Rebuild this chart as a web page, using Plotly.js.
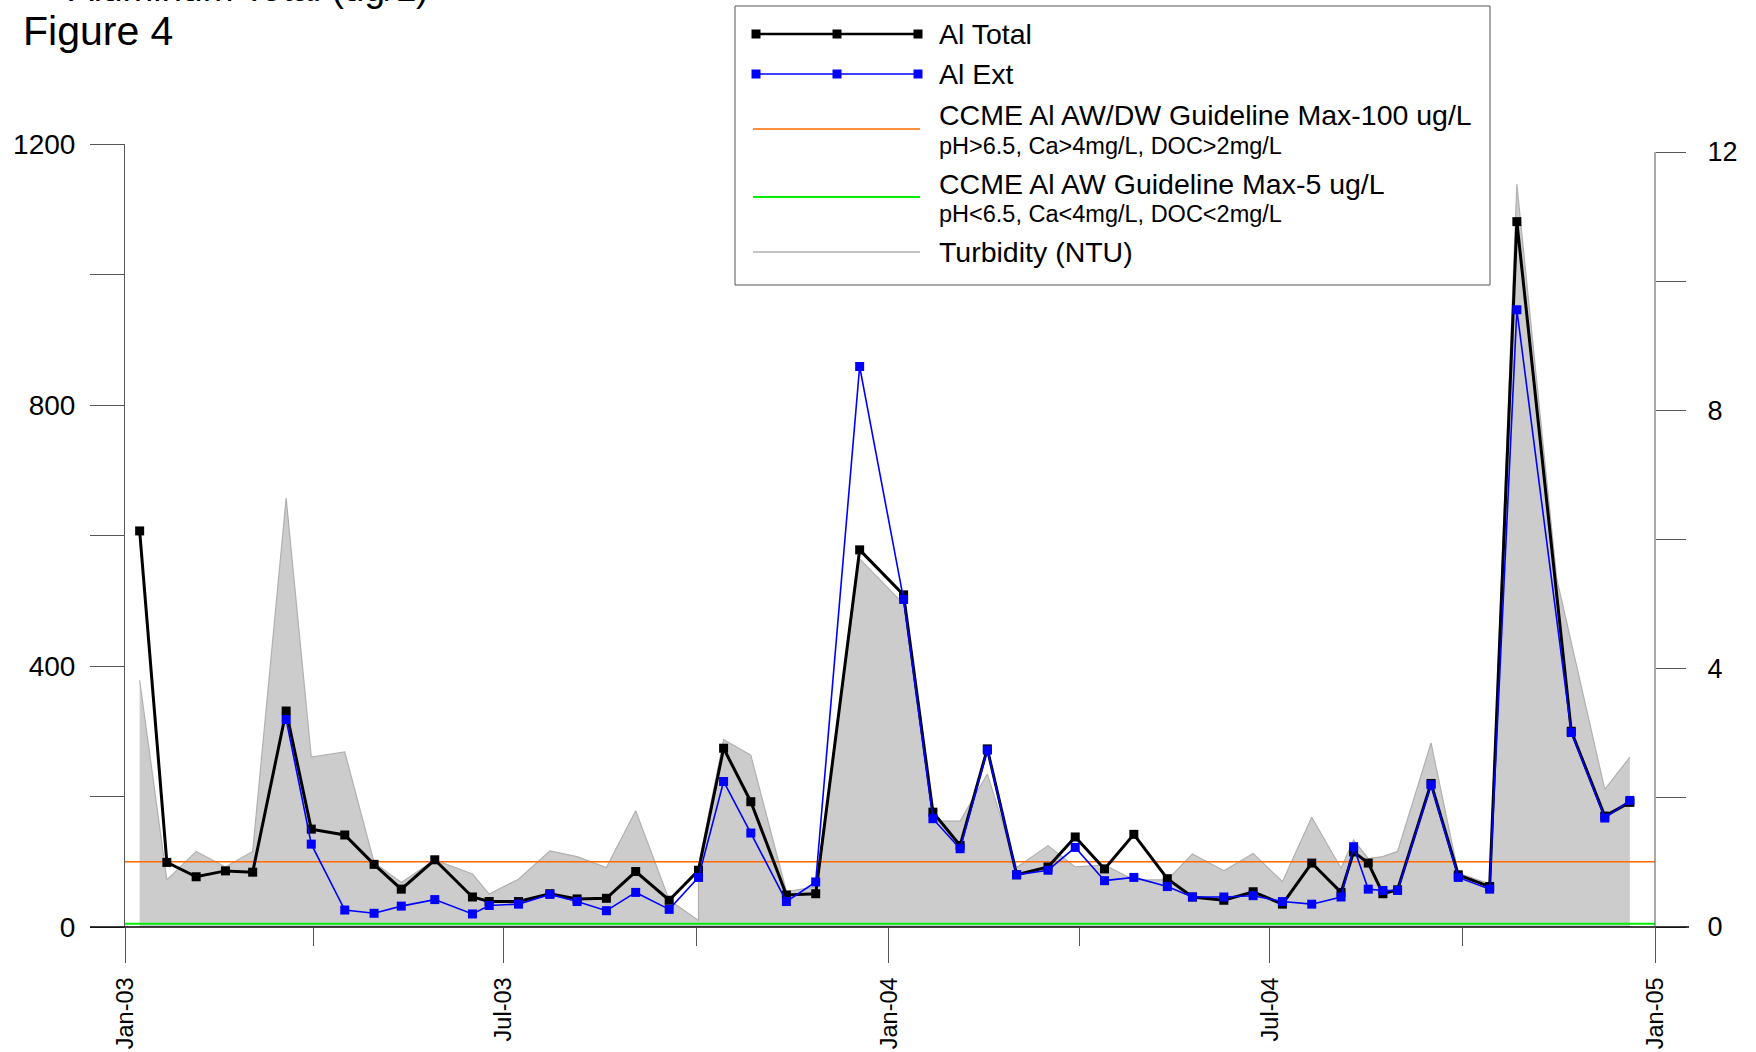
<!DOCTYPE html>
<html><head><meta charset="utf-8">
<script src="https://cdn.plot.ly/plotly-3.0.1.min.js"></script>
<style>html,body{margin:0;padding:0;background:#fff;}#chart{width:1756px;height:1052px;}</style>
</head><body><div id="chart"></div>
<script>
// ---- Data ----
const sampleDates = ['2003-01-08','2003-01-21','2003-02-04','2003-02-18','2003-03-03','2003-03-19','2003-03-31','2003-04-16','2003-04-30','2003-05-13','2003-05-29','2003-06-16','2003-06-24','2003-07-08','2003-07-23','2003-08-05','2003-08-19','2003-09-02','2003-09-18','2003-10-02','2003-10-14','2003-10-27','2003-11-13','2003-11-27','2003-12-18','2004-01-08','2004-01-22','2004-02-04','2004-02-17','2004-03-02','2004-03-17','2004-03-30','2004-04-13','2004-04-27','2004-05-13','2004-05-25','2004-06-09','2004-06-23','2004-07-07','2004-07-21','2004-08-04','2004-08-10','2004-08-17','2004-08-24','2004-08-31','2004-09-16','2004-09-29','2004-10-14','2004-10-27','2004-11-22','2004-12-08','2004-12-20'];
const alTotal = [607,99,77,86,84,331,150,141,96,58,103,46,39,39,51,43,44,85,41,87,274,192,49,51,578,509,176,125,273,80,92,138,89,142,74,46,41,54,35,98,53,115,98,51,57,220,80,62,1081,300,170,191];
const alExt = [null,null,null,null,null,318,127,26,21,32,42,20,33,35,50,39,25,53,27,76,223,144,39,69,859,502,166,120,271,80,87,122,71,76,62,46,46,48,39,35,46,123,58,56,56,218,76,58,946,298,167,194];
const turbDates = ['2003-01-08','2003-01-21','2003-02-04','2003-02-18','2003-03-03','2003-03-19','2003-03-31','2003-04-16','2003-04-30','2003-05-13','2003-05-29','2003-06-16','2003-06-24','2003-07-08','2003-07-23','2003-08-05','2003-08-19','2003-09-02','2003-09-18','2003-10-02','2003-10-02','2003-10-14','2003-10-27','2003-11-13','2003-11-27','2003-12-18','2004-01-08','2004-01-22','2004-02-04','2004-02-17','2004-03-02','2004-03-17','2004-03-30','2004-04-13','2004-04-27','2004-05-13','2004-05-25','2004-06-09','2004-06-23','2004-07-07','2004-07-21','2004-08-04','2004-08-10','2004-08-17','2004-08-24','2004-08-31','2004-09-16','2004-09-29','2004-10-14','2004-10-27','2004-11-15','2004-12-08','2004-12-20'];
const turbidity = [3.82,0.73,1.17,0.93,1.17,6.64,2.63,2.71,1.0,0.69,1.04,0.82,0.51,0.74,1.18,1.09,0.92,1.8,0.42,0.1,0.95,2.9,2.66,0.55,0.62,5.7,5.0,1.64,1.64,2.37,0.92,1.26,0.93,0.96,0.73,0.73,1.13,0.87,1.14,0.70,1.70,0.91,1.35,1.06,1.09,1.17,2.85,0.83,0.67,11.5,5.4,2.13,2.63];
const guideDates = ['2003-01-01','2005-01-01'];
const guideAWDW = [100,100];
const guideAW = [5,5];
const leftTickVals = [0,200,400,600,800,1000,1200];
const leftTickText = ['0','','400','','800','','1200'];
const rightTickVals = [0,2,4,6,8,10,12];
const rightTickText = ['0','','4','','8','','12'];
const legendLabels = ['Al Total','Al Ext','CCME Al AW/DW Guideline Max-100 ug/L','CCME Al AW Guideline Max-5 ug/L','Turbidity (NTU)'];
const legendSubLabels = ['pH>6.5, Ca>4mg/L, DOC>2mg/L','pH<6.5, Ca<4mg/L, DOC<2mg/L'];
const figLabel = 'Figure 4';
const topTitle = 'Aluminum Total (ug/L)';

// ---- Geometry helpers (pixels -> paper) ----
const W=1756,H=1052,L=125,R=1655,T=144,B=927;
const px = p => (p-L)/(R-L);
const py = p => (B-p)/(B-T);
const FONT = '"Liberation Sans", Arial, Helvetica, sans-serif';
const BLACK='#000000', BLUE='#0000ff', ORANGE='#ff6a00', GREEN='#00ee00', GREYL='#b0b0b0';

const traces = [
  {x:turbDates, y:turbidity, type:'scatter', mode:'lines', fill:'tozeroy', fillcolor:'#cccccc',
   line:{color:GREYL,width:1.2}, yaxis:'y', xaxis:'x', name:legendLabels[4], showlegend:false, hoverinfo:'skip'},
  {x:guideDates, y:guideAWDW, type:'scatter', mode:'lines', line:{color:ORANGE,width:1.6}, yaxis:'y2', name:legendLabels[2], showlegend:false},
  {x:guideDates, y:guideAW, type:'scatter', mode:'lines', line:{color:GREEN,width:2}, yaxis:'y2', name:legendLabels[3], showlegend:false},
  {x:sampleDates, y:alTotal, type:'scatter', mode:'lines+markers', line:{color:BLACK,width:3},
   marker:{symbol:'square',size:9,color:BLACK}, yaxis:'y2', name:legendLabels[0], showlegend:false},
  {x:sampleDates, y:alExt, type:'scatter', mode:'lines+markers', line:{color:BLUE,width:1.6},
   marker:{symbol:'square',size:9,color:BLUE}, yaxis:'y2', name:legendLabels[1], showlegend:false, connectgaps:false}
];

const shapes = [
  {type:'line', xref:'paper', yref:'paper', x0:px(90), x1:px(1689), y0:0, y1:0, line:{color:'#000',width:1.5}, layer:'above'},
  {type:'line', xref:'paper', yref:'y', x0:1, x1:1, y0:0, y1:12, line:{color:'#555',width:1}, layer:'above'},
  {type:'rect', xref:'paper', yref:'paper', x0:px(735), x1:px(1490), y0:py(285), y1:py(6), line:{color:'#555',width:1}, fillcolor:'#ffffff', layer:'above'}
];
const annotations = [];

function legendSample(yc, color, width, withMarkers){
  shapes.push({type:'line', xref:'paper', yref:'paper', x0:px(753), x1:px(920), y0:py(yc), y1:py(yc), line:{color:color,width:width}, layer:'above'});
  if(withMarkers){
    [756,837,918].forEach(c=>{
      shapes.push({type:'rect', xref:'paper', yref:'paper', x0:px(c-4.5), x1:px(c+4.5), y0:py(yc+4.5), y1:py(yc-4.5), line:{width:0}, fillcolor:color, layer:'above'});
    });
  }
}
function legendText(text, yc, size){
  annotations.push({xref:'paper', yref:'paper', x:px(937), y:py(yc), xanchor:'left', yanchor:'middle', text:text, showarrow:false, font:{family:FONT,size:size,color:'#000'}});
}
legendSample(34, BLACK, 2.5, true);   legendText(legendLabels[0], 34, 28.5);
legendSample(74, BLUE, 1.6, true);    legendText(legendLabels[1], 74, 28.5);
legendSample(129, ORANGE, 1.6, false); legendText(legendLabels[2], 115, 28.5); legendText(legendSubLabels[0], 146, 23.5);
legendSample(197, GREEN, 2, false);   legendText(legendLabels[3], 184, 28.5); legendText(legendSubLabels[1], 214, 23.5);
legendSample(252, GREYL, 1.4, false); legendText(legendLabels[4], 252, 28.5);

annotations.push({xref:'paper', yref:'paper', x:px(21), y:py(31), xanchor:'left', yanchor:'middle', text:figLabel, showarrow:false, font:{family:FONT,size:41,color:'#000'}});
annotations.push({xref:'paper', yref:'paper', x:px(67), y:py(-12), xanchor:'left', yanchor:'middle', text:topTitle, showarrow:false, font:{family:FONT,size:37,color:'#000'}});

const layout = {
  width:W, height:H,
  margin:{l:L, r:W-R, t:T, b:H-B, pad:0},
  paper_bgcolor:'#ffffff', plot_bgcolor:'#ffffff',
  font:{family:FONT, color:'#000'},
  showlegend:false,
  xaxis:{type:'date', range:['2003-01-01','2005-01-01'], tickmode:'linear', tick0:'2003-01-01', dtick:'M6',
    tickformat:'%b-%y', tickangle:-90, ticks:'outside', ticklen:35, tickwidth:1, tickcolor:'#555',
    showline:false, showgrid:false, zeroline:false, tickfont:{family:FONT,size:23.5,color:'#000'}, ticklabelstandoff:5,
    minor:{tick0:'2003-01-01', dtick:'M3', ticks:'outside', ticklen:18, tickwidth:1, tickcolor:'#555', showgrid:false}},
  yaxis:{range:[0, 12*(B-T)/(B-152)], side:'right', tickmode:'array', tickvals:rightTickVals, ticktext:rightTickText,
    ticks:'outside', ticklen:30, tickwidth:1, tickcolor:'#555', showline:false, showgrid:false, zeroline:false,
    tickfont:{family:FONT,size:27,color:'#000'}, ticklabelstandoff:16, fixedrange:true},
  yaxis2:{range:[0,1200], side:'left', overlaying:'y', tickmode:'array', tickvals:leftTickVals, ticktext:leftTickText,
    ticks:'outside', ticklen:34, tickwidth:1, tickcolor:'#555', showline:true, linecolor:'#555', linewidth:1,
    showgrid:false, zeroline:false, tickfont:{family:FONT,size:28,color:'#000'}, ticklabelstandoff:9, fixedrange:true},
  shapes:shapes,
  annotations:annotations
};

Plotly.newPlot('chart', traces, layout, {displayModeBar:false, staticPlot:true});
</script>
</body></html>
